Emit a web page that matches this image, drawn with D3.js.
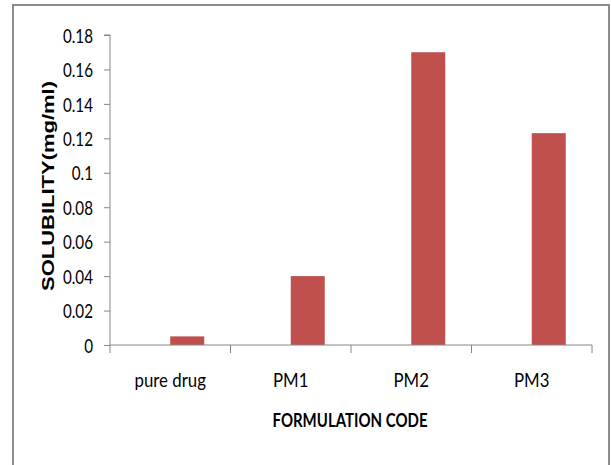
<!DOCTYPE html>
<html>
<head>
<meta charset="utf-8">
<script src="https://cdn.jsdelivr.net/npm/d3@7"></script>
<style>
  html, body { margin: 0; padding: 0; background: #fff; }
  svg { display: block; }
</style>
</head>
<body>
<svg id="chart" width="611" height="465"></svg>
<script>
const categories = ["pure drug", "PM1", "PM2", "PM3"];
const solubility = [0.005, 0.04, 0.17, 0.123];
const yTicks = [0, 0.02, 0.04, 0.06, 0.08, 0.1, 0.12, 0.14, 0.16, 0.18];
const yTitle = "SOLUBILITY(mg/ml)";
const xTitle = "FORMULATION CODE";

(function () {
const svg = d3.select("#chart");
const font = "Lato, 'Open Sans', 'Liberation Sans', sans-serif";

// squeeze text horizontally to mimic a condensed face
function squeeze(sel, f) {
  sel.each(function () {
    const w = this.getComputedTextLength();
    d3.select(this).attr("textLength", w * f).attr("lengthAdjust", "spacingAndGlyphs");
  });
}

// outer frame
svg.append("rect")
  .attr("x", 13).attr("y", 5)
  .attr("width", 596).attr("height", 480)
  .attr("fill", "#fff")
  .attr("stroke", "#8c8c8c").attr("stroke-width", 2);

const mLeft = 110, mRight = 592, mTop = 35, mBottom = 345;

const x = d3.scaleBand().domain(categories).range([mLeft, mRight]).paddingInner(0).paddingOuter(0);
const y = d3.scaleLinear().domain([0, 0.18]).range([mBottom, mTop]);

// bars (start at band centre, as in the reference)
const barW = 34;
svg.append("g").selectAll("rect")
  .data(categories)
  .enter().append("rect")
  .attr("x", (d) => x(d) + x.bandwidth() / 2)
  .attr("y", (d, i) => y(solubility[i]))
  .attr("width", barW)
  .attr("height", (d, i) => y(0) - y(solubility[i]))
  .attr("fill", "#C0504D");

// y axis
const yAxis = d3.axisLeft(y).tickValues(yTicks).tickSize(6).tickPadding(11)
  .tickFormat(d => d === 0 ? "0" : String(+d.toFixed(2)));
const gy = svg.append("g").attr("transform", `translate(${mLeft},0)`).call(yAxis);
gy.select(".domain").attr("stroke", "#868686").attr("d", `M-6,${mTop}H0V${mBottom}`);
gy.selectAll(".tick line").attr("stroke", "#868686");
gy.selectAll(".tick text")
  .attr("fill", "#000")
  .style("font-family", font)
  .style("font-size", "20px")
  .attr("dy", "0.36em");
squeeze(gy.selectAll(".tick text"), 0.76);

// x axis
const gx = svg.append("g").attr("transform", `translate(0,${mBottom})`);
gx.append("line").attr("x1", mLeft).attr("x2", mRight).attr("y1", 0).attr("y2", 0)
  .attr("stroke", "#868686");
const tickPos = categories.map(c => x(c)).concat([mRight]);
gx.selectAll("line.tk").data(tickPos).enter().append("line")
  .attr("class", "tk")
  .attr("x1", d => d).attr("x2", d => d).attr("y1", 0).attr("y2", 8)
  .attr("stroke", "#868686");
const xl = gx.selectAll("text.lbl").data(categories).enter().append("text")
  .attr("class", "lbl")
  .attr("x", d => x(d) + x.bandwidth() / 2)
  .attr("y", 42)
  .attr("text-anchor", "middle")
  .style("font-family", font)
  .style("font-size", "20px")
  .attr("fill", "#000")
  .text(d => d);
squeeze(xl, 0.84);

// axis titles
svg.append("text")
  .attr("x", 350).attr("y", 427)
  .attr("text-anchor", "middle")
  .style("font-family", font)
  .style("font-size", "19px")
  .style("font-weight", "bold")
  .attr("fill", "#000")
  .attr("textLength", 155).attr("lengthAdjust", "spacingAndGlyphs")
  .text(xTitle);

svg.append("text")
  .attr("transform", "translate(54,186) rotate(-90)")
  .attr("text-anchor", "middle")
  .style("font-family", "'Liberation Sans', Arial, sans-serif")
  .style("font-size", "17px")
  .style("font-weight", "bold")
  .attr("fill", "#000")
  .attr("textLength", 210).attr("lengthAdjust", "spacingAndGlyphs")
  .text(yTitle);
})();
</script>
</body>
</html>
